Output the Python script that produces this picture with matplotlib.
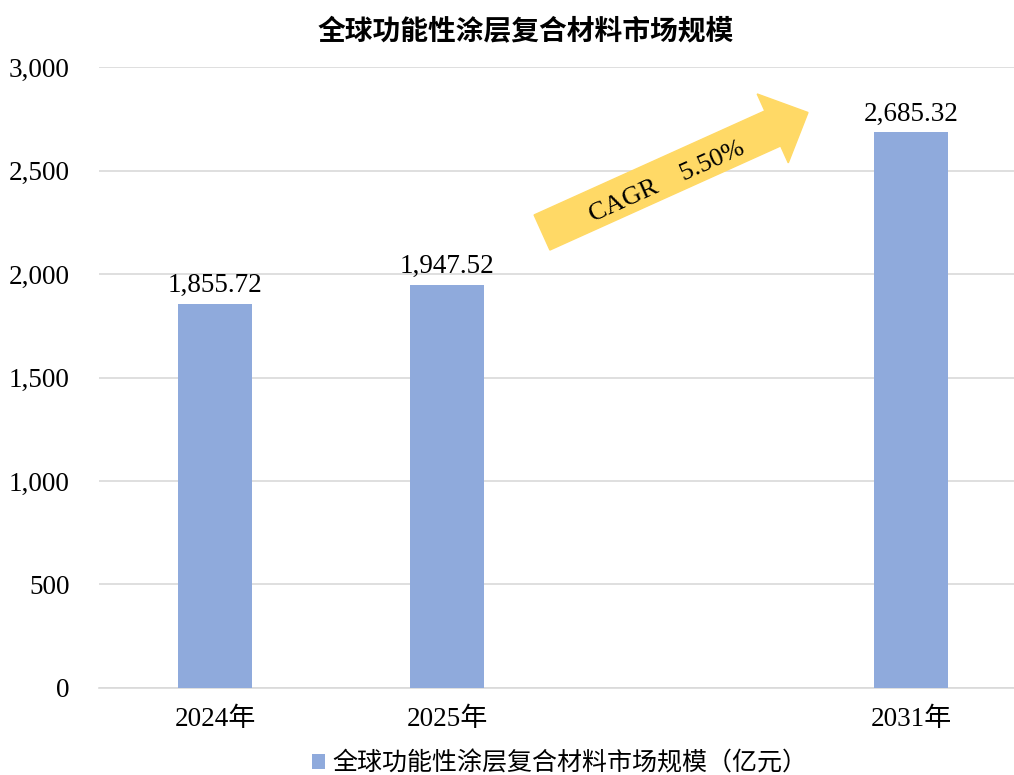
import matplotlib
matplotlib.use('Agg')
from matplotlib import pyplot as plt
from matplotlib.patches import FancyArrow
from matplotlib.transforms import IdentityTransform
from matplotlib.ticker import FuncFormatter

plt.rcParams['font.family'] = ['Liberation Serif', 'Noto Sans CJK SC', 'DejaVu Sans']

# data
years = ['2024年', '2025年', '2031年']
values = [1855.72, 1947.52, 2685.32]
series_name = '全球功能性涂层复合材料市场规模（亿元）'
title = '全球功能性涂层复合材料市场规模'
cagr_text = 'CAGR    5.50%'

# layout: 2031 sits three slots after 2024
x_pos = [0, 1, 3]
bar_color = '#8FAADC'
grid_color = '#D9D9D9'

fig = plt.figure(figsize=(10.14, 7.75), dpi=100)
ax = fig.add_axes([0.0976, 0.1123, 0.9024, 0.8012])

ax.bar(x_pos, values, width=0.315, color=bar_color, zorder=3, label=series_name)
for x, v in zip(x_pos, values):
    ax.annotate(f'{v:,.2f}', (x, v), xytext=(0, 4), textcoords='offset points',
                ha='center', va='bottom', fontsize=19.5)

ax.set_xlim(-0.5, 3.444)
ax.set_ylim(0, 3000)
ax.set_yticks(range(0, 3001, 500))
ax.yaxis.set_major_formatter(FuncFormatter(lambda v, p: f'{v:,.0f}'))
ax.set_xticks(x_pos)
ax.set_xticklabels(years)
ax.tick_params(axis='both', length=0, labelsize=19.5)
ax.tick_params(axis='y', pad=21)
ax.tick_params(axis='x', pad=14)
ax.grid(axis='y', color=grid_color, linewidth=1.2, zorder=0)
for s in ['top', 'right', 'left']:
    ax.spines[s].set_visible(False)
ax.spines['bottom'].set_color(grid_color)
ax.spines['bottom'].set_linewidth(1.2)

fig.text(0.518, 0.958, title, ha='center', va='center', fontsize=20,
         fontweight='bold', family=['Noto Sans CJK SC'])

# CAGR arrow (display pixels)
arrow = FancyArrow(542, 542.5, 266, 120, width=38.5, head_width=75.6,
                   head_length=38.7, length_includes_head=True,
                   color='#FFD966', transform=IdentityTransform(), zorder=5)
fig.patches.append(arrow)
fig.text(667 / 1014, 593 / 775, cagr_text, ha='center', va='center', rotation=24.3,
         fontsize=19, rotation_mode='anchor', zorder=6)

leg = fig.legend(loc='center', bbox_to_anchor=(0.552, 0.015), frameon=False,
                 handlelength=0.5, handleheight=0.5, handletextpad=0.3,
                 prop={'family': ['Noto Sans CJK SC'], 'size': 18})

fig.savefig('out.png', dpi=100)
